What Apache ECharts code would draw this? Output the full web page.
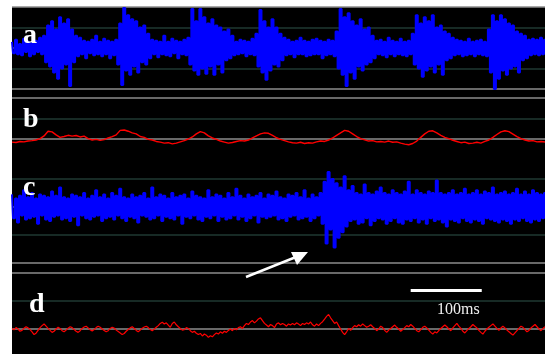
<!DOCTYPE html>
<html>
<head>
<meta charset="utf-8">
<script src="https://cdn.jsdelivr.net/npm/echarts@6/dist/echarts.min.js"></script>
<style>
    html, body { margin: 0; padding: 0; background: #fff; }
    #chart { width: 545px; height: 354px; }
</style>
</head>
<body>
<div id="chart"></div>
<script>
// trace a: raw signal, bursts roughly every 75ms-ish
const traceA = [
    0.3,-0.25,0.4,-0.3,0.2,-0.35,0.45,-0.2,0.3,-0.4,0.25,-0.3,0.35,-0.2,0.5,-0.3,
    0.6,-0.7,1.1,-0.9,1.3,-1.2,0.9,-1.5,1.5,-1.0,1.2,-0.8,1.4,-1.85,0.9,-0.7,0.6,
    -0.4,0.5,-0.3,0.35,-0.5,0.3,-0.25,0.4,-0.35,0.6,-0.3,0.3,-0.4,0.45,-0.3,0.35,-0.5,0.3,-0.35,0.4,
    -0.8,1.2,-1.8,1.95,-1.1,1.6,-1.3,1.4,-0.9,1.3,-1.2,1.0,-0.7,1.1,-0.8,0.7,-0.5,
    0.4,-0.3,0.35,-0.45,0.3,-0.3,0.6,-0.35,0.3,-0.4,0.45,-0.25,0.35,-0.5,0.3,-0.3,0.4,-0.35,0.5,
    -0.8,1.9,-1.1,1.3,-1.3,1.9,-1.0,1.5,-1.25,1.2,-0.9,1.4,-1.3,1.1,-0.8,1.0,-1.2,0.8,-0.6,0.9,-0.5,0.6,
    -0.35,0.3,-0.3,0.4,-0.25,0.35,-0.4,0.3,-0.3,0.45,-0.35,
    0.7,-0.9,1.85,-1.2,1.3,-1.55,1.0,-1.1,1.4,-0.8,1.0,-0.9,0.7,-0.6,0.5,
    -0.35,0.4,-0.3,0.3,-0.45,0.35,-0.3,0.5,-0.3,0.35,-0.4,0.3,-0.35,0.4,-0.3,0.45,-0.3,0.35,-0.5,0.3,-0.35,0.4,-0.3,0.35,-0.4,
    0.8,-1.0,1.9,-1.3,1.5,-1.85,1.7,-1.2,1.3,-1.5,1.1,-0.9,1.4,-1.1,0.9,-0.8,1.0,-0.7,0.6,-0.5,
    0.35,-0.3,0.4,-0.35,0.3,-0.45,0.5,-0.3,0.35,-0.4,0.3,-0.3,0.45,-0.35,0.3,-0.4,0.35,-0.3,
    0.7,-0.8,1.6,-1.0,1.2,-1.4,1.5,-1.1,1.3,-0.9,1.6,-1.2,1.0,-0.8,1.1,-1.3,0.8,-0.6,0.7,-0.5,0.5,
    -0.35,0.4,-0.3,0.35,-0.4,0.3,-0.35,0.45,-0.3,0.3,-0.4,0.35,-0.3,0.4,-0.35,0.3,-0.4,
    0.9,-1.2,1.6,-2.0,1.3,-1.5,1.6,-1.1,1.4,-1.3,1.2,-1.0,1.1,-0.9,0.8,-1.2,0.7,-0.6,0.6,-0.5,
    0.4,-0.35,0.45,-0.3,0.4,-0.35,0.5,-0.3,0.4
];

// trace b: envelope of a
const traceB = [
    -0.15,-0.17,-0.12,-0.14,-0.1,-0.08,-0.05,0.02,0.15,0.38,
    0.35,0.2,0.08,0.12,0.18,0.14,0.17,0.1,0.14,0.02,
    -0.05,-0.02,-0.07,-0.03,0.05,0.12,0.2,0.42,0.44,0.38,
    0.3,0.25,0.12,0.08,-0.02,-0.05,-0.12,-0.15,-0.2,-0.18,
    -0.24,-0.2,-0.14,-0.08,0.0,0.1,0.25,0.36,0.3,0.15,
    0.05,-0.02,-0.1,-0.15,-0.2,-0.17,-0.12,-0.08,-0.1,-0.05,
    0.05,0.15,0.25,0.3,0.28,0.18,0.06,-0.02,-0.08,-0.14,
    -0.18,-0.2,-0.16,-0.22,-0.18,-0.2,-0.14,-0.1,-0.12,-0.05,
    0.05,0.18,0.3,0.42,0.38,0.25,0.12,0.02,-0.04,-0.1,
    -0.08,-0.14,-0.12,-0.15,-0.1,-0.16,-0.14,-0.2,-0.25,-0.28,
    -0.22,-0.1,0.08,0.25,0.38,0.4,0.3,0.18,0.08,0.02,
    -0.06,-0.12,-0.18,-0.15,-0.22,-0.2,-0.16,-0.2,-0.12,-0.05,
    0.08,0.22,0.35,0.4,0.36,0.24,0.12,0.02,-0.05,-0.1,
    -0.08,-0.14,-0.12,-0.15
];

// trace c: second raw signal, event near 440ms
const traceC = [
    0.45,-0.4,0.3,-0.55,0.4,-0.3,0.6,-0.45,0.35,-0.4,0.5,-0.35,0.3,-0.6,0.45,-0.3,0.4,-0.45,0.35,-0.5,
    0.55,-0.35,0.4,-0.3,0.7,-0.45,0.35,-0.4,0.3,-0.5,0.45,-0.35,0.4,-0.65,0.35,-0.3,0.5,-0.4,0.3,-0.45,
    0.4,-0.35,0.6,-0.3,0.35,-0.5,0.45,-0.4,0.3,-0.35,0.5,-0.45,0.4,-0.3,0.65,-0.4,0.35,-0.5,0.3,-0.35,
    0.45,-0.4,0.35,-0.55,0.4,-0.3,0.5,-0.35,0.3,-0.45,0.7,-0.4,0.35,-0.3,0.45,-0.5,0.4,-0.35,0.3,-0.4,
    0.5,-0.45,0.35,-0.3,0.4,-0.6,0.45,-0.35,0.3,-0.4,0.55,-0.3,0.4,-0.45,0.35,-0.5,0.3,-0.35,0.6,-0.4,
    0.35,-0.3,0.45,-0.5,0.4,-0.35,0.3,-0.45,0.5,-0.4,0.35,-0.3,0.65,-0.45,0.4,-0.35,0.3,-0.5,0.45,-0.4,
    0.35,-0.3,0.4,-0.55,0.5,-0.35,0.3,-0.4,0.45,-0.35,0.4,-0.3,0.55,-0.45,0.35,-0.4,0.3,-0.5,0.45,-0.35,
    0.4,-0.3,0.5,-0.45,0.35,-0.4,0.6,-0.35,0.3,-0.5,0.45,-0.4,0.35,-0.3,0.5,
    -0.6,0.9,-1.3,1.25,-0.8,1.0,-1.45,0.85,-1.1,0.7,-0.9,1.1,-0.7,
    0.6,-0.5,0.75,-0.45,0.5,-0.6,0.45,-0.55,0.8,-0.4,0.5,-0.65,0.45,-0.5,0.55,-0.4,0.7,-0.45,0.5,-0.6,
    0.45,-0.5,0.6,-0.4,0.5,-0.55,0.45,-0.6,0.55,-0.45,0.9,-0.5,0.45,-0.4,0.6,-0.55,0.5,-0.45,0.45,-0.6,
    0.55,-0.4,0.5,-0.5,0.95,-0.45,0.5,-0.55,0.45,-0.7,0.5,-0.45,0.6,-0.5,0.45,-0.55,0.5,-0.4,0.65,-0.5,
    0.45,-0.55,0.5,-0.45,0.6,-0.5,0.45,-0.6,0.55,-0.4,0.5,-0.45,0.7,-0.5,0.45,-0.55,0.5,-0.45,0.55,-0.5,
    0.45,-0.6,0.5,-0.45,0.65,-0.5,0.45,-0.4,0.55,-0.5,0.45,-0.55,0.6,-0.45,0.5,-0.5,0.45,-0.4,0.5
];

// trace d: envelope of c
const traceD = [
    0.02,-0.03,0.05,0.0,-0.08,-0.05,0.03,0.08,0.04,-0.02,-0.1,-0.2,-0.15,-0.05,0.05,0.12,0.18,0.1,0.02,-0.05,
    -0.12,-0.08,0.0,0.06,0.02,-0.06,-0.1,-0.04,0.03,0.08,0.05,-0.02,-0.08,-0.12,-0.06,0.02,0.07,0.1,0.04,-0.03,
    -0.07,-0.02,0.05,0.1,0.06,0.0,-0.05,-0.1,-0.06,0.02,0.06,0.03,-0.04,-0.09,-0.14,-0.2,-0.16,-0.08,-0.02,0.04,
    0.08,0.02,-0.05,-0.1,-0.04,0.03,0.07,0.1,0.05,-0.02,-0.06,0.0,0.06,0.12,0.2,0.24,0.18,0.22,0.14,0.06,
    0.2,0.25,0.15,0.08,0.02,-0.04,-0.02,0.05,0.02,-0.06,-0.12,-0.08,-0.15,-0.2,-0.16,-0.25,-0.18,-0.22,-0.3,-0.24,
    -0.28,-0.2,-0.14,-0.18,-0.1,-0.15,-0.08,-0.12,-0.05,0.0,-0.06,0.02,-0.03,0.05,0.08,0.02,0.12,0.2,0.16,0.25,
    0.3,0.22,0.28,0.36,0.4,0.3,0.2,0.14,0.08,0.16,0.12,0.05,0.18,0.22,0.15,0.2,0.16,0.1,0.18,0.14,
    0.2,0.15,0.22,0.18,0.12,0.2,0.16,0.22,0.18,0.25,0.15,0.1,0.18,0.12,0.2,0.26,0.35,0.45,0.52,0.4,
    0.3,0.2,0.25,0.12,0.0,-0.12,-0.2,-0.1,0.02,-0.05,0.05,0.12,0.08,0.15,0.1,0.18,0.12,0.06,0.1,0.15,
    0.08,0.02,-0.06,0.0,0.1,0.05,-0.05,-0.12,-0.04,0.02,0.08,0.14,0.06,0.0,-0.08,-0.02,0.05,0.12,0.08,0.16,
    0.1,0.02,-0.06,-0.1,-0.02,0.06,0.1,0.04,-0.04,-0.12,-0.18,-0.1,-0.14,-0.06,0.02,0.08,0.14,0.08,0.0,-0.06,
    0.04,0.12,0.2,0.1,0.02,-0.08,-0.14,-0.06,0.02,0.08,0.16,0.1,0.04,-0.05,-0.12,-0.18,-0.08,0.0,0.06,0.12,
    0.18,0.1,0.02,-0.05,0.04,0.1,0.04,-0.04,-0.1,-0.16,-0.22,-0.14,-0.06,0.02,0.1,0.06,-0.02,-0.1,-0.05,0.04,
    0.1,0.16,0.08,0.0,-0.06,0.02,0.08
];

const panelLabels = ['a', 'b', 'c', 'd'];
const scaleBarMs = [561, 661];   // 100 ms scale bar
const scaleBarLabel = '100ms';
const totalMs = 750;

const GRAY = '#8c8c8c';
const DARK = '#1f3832';
const NONE = 'rgba(0,0,0,0)';

const chart = echarts.init(document.getElementById('chart'));

function toPoints(arr) {
    const dt = totalMs / (arr.length - 1);
    return arr.map((v, i) => [i * dt, v]);
}

// grids: 0 = black backdrop, 1..4 = panels a..d
const grids = [
    { left: 12, right: 0, top: 7, bottom: 0, show: true, backgroundColor: '#000', borderWidth: 0 },
    { left: 12, right: 0, top: 7, height: 82 },
    { left: 12, right: 0, top: 98, height: 82 },
    { left: 12, right: 0, top: 151, height: 112 },
    { left: 12, right: 0, top: 217, height: 112 }
];
const yRanges = [null, [-2, 2], [-2, 2], [-2, 2], [0, 4]];
const lineColors = [
    null,
    [GRAY, DARK, GRAY, DARK, GRAY],
    [NONE, NONE, GRAY, DARK, GRAY],
    [GRAY, DARK, GRAY, DARK, NONE],
    [GRAY, DARK, GRAY, NONE, NONE]
];

const xAxes = grids.map((g, i) => ({
    gridIndex: i, type: 'value', min: 0, max: totalMs, show: false
}));
const yAxes = grids.map((g, i) => i === 0 ? { gridIndex: 0, type: 'value', show: false } : ({
    gridIndex: i,
    type: 'value',
    min: yRanges[i][0],
    max: yRanges[i][1],
    interval: 1,
    axisLine: { show: false },
    axisTick: { show: false },
    axisLabel: { show: false },
    splitLine: { show: true, lineStyle: { color: lineColors[i], width: 1.5 } }
}));

const labelPos = [[23, 22], [23, 106], [23, 174], [29, 291]];

function wave(idx, data, color, width, step) {
    return {
        type: 'line', xAxisIndex: idx, yAxisIndex: idx, data: toPoints(data),
        step: step, clip: false, showSymbol: false,
        lineStyle: { color: color, width: width }, z: 3
    };
}

chart.setOption({
    backgroundColor: '#fff',
    animation: false,
    grid: grids,
    xAxis: xAxes,
    yAxis: yAxes,
    series: [
        wave(1, traceA, '#0000ff', 2, 'middle'),
        wave(2, traceB, '#ff0000', 1.4, false),
        wave(3, traceC, '#0000ff', 2, 'middle'),
        Object.assign(wave(4, traceD, '#ff0000', 1.2, false), {
            markLine: {
                silent: true,
                symbol: 'none',
                animation: false,
                lineStyle: { color: '#fff', width: 3, type: 'solid' },
                label: { show: false },
                data: [[{ coord: [scaleBarMs[0], 1.39] }, { coord: [scaleBarMs[1], 1.39] }]]
            }
        })
    ],
    graphic: [
        ...panelLabels.map((t, i) => ({
            type: 'text', left: labelPos[i][0], top: labelPos[i][1], z: 10,
            style: { text: t, fill: '#fff', font: 'bold 28px "Liberation Serif"' }
        })),
        {
            type: 'text', left: 437, top: 302, z: 10,
            style: { text: scaleBarLabel, fill: '#f0f0f0', font: '16px "Liberation Serif"' }
        },
        {
            type: 'line', z: 10,
            shape: { x1: 246, y1: 277, x2: 296, y2: 257 },
            style: { stroke: '#fff', lineWidth: 2.5 }
        },
        {
            type: 'polygon', z: 10,
            shape: { points: [[308, 252], [291, 252], [297, 265]] },
            style: { fill: '#fff' }
        }
    ]
});

window.addEventListener('resize', () => {
    chart && chart.resize();
});
</script>
</body>
</html>
